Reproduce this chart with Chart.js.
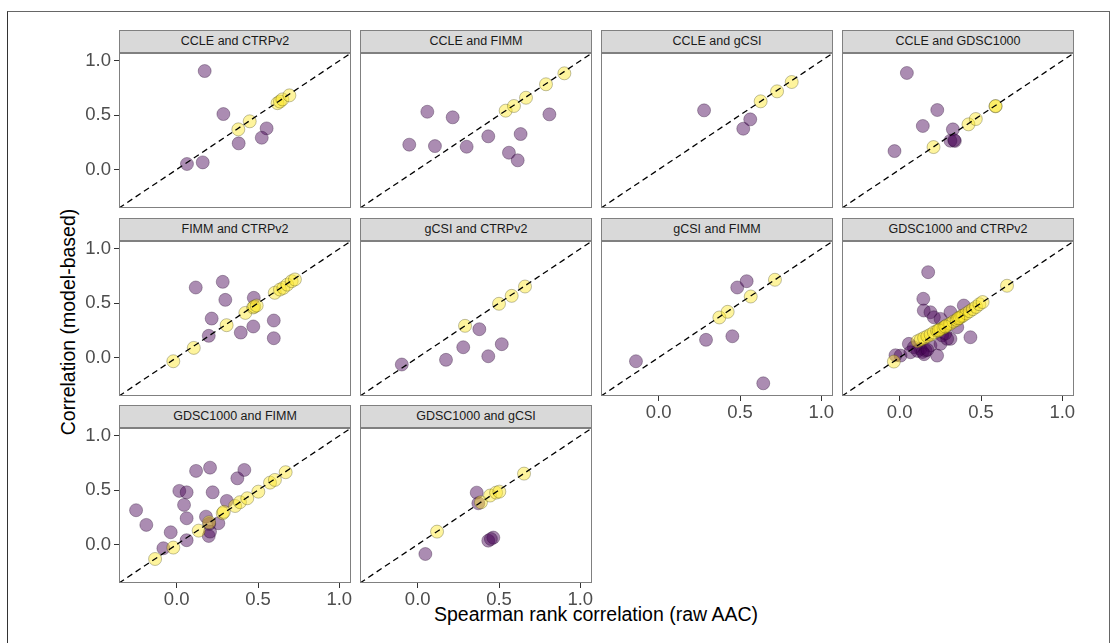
<!DOCTYPE html>
<html>
<head>
<meta charset="utf-8">
<script src="https://cdn.jsdelivr.net/npm/chart.js@4.4.1/dist/chart.umd.min.js"></script>
<style>
  html, body { margin: 0; padding: 0; background: #ffffff; }
  body { width: 1117px; height: 643px; position: relative; overflow: hidden; font-family: "Liberation Sans", Arial, sans-serif; }
  #frame { position: absolute; left: 7px; top: 11px; width: 1103px; height: 660px; border-top: 1px solid #666; border-left: 1px solid #333; border-right: 1px solid #666; box-sizing: border-box; }
  .strip { position: absolute; box-sizing: border-box; background: #d9d9d9; border: 1px solid #808080; color: #1a1a1a; font-size: 12.5px; text-align: center; line-height: 21px; white-space: nowrap; }
  .cv { position: absolute; }
  #ytitle { position: absolute; left: 68px; top: 322px; transform: translate(-50%, -50%) rotate(-90deg); font-size: 19.5px; color: #000; white-space: nowrap; }
  #xtitle { position: absolute; left: 596px; top: 614px; transform: translate(-50%, -50%); font-size: 19.5px; color: #000; white-space: nowrap; }
</style>
</head>
<body>
<div id="frame"></div>
<div id="ytitle">Correlation (model-based)</div>
<div id="xtitle">Spearman rank correlation (raw AAC)</div>
<script>
// ---------------- DATA ----------------
const panelTitles = ["CCLE and CTRPv2", "CCLE and FIMM", "CCLE and gCSI", "CCLE and GDSC1000",
  "FIMM and CTRPv2", "gCSI and CTRPv2", "gCSI and FIMM", "GDSC1000 and CTRPv2",
  "GDSC1000 and FIMM", "GDSC1000 and gCSI"];
const tickValues = [0.0, 0.5, 1.0];
const axisRange = [-0.355, 1.072];
const xAxisTitle = "Spearman rank correlation (raw AAC)";
const yAxisTitle = "Correlation (model-based)";

// [raw AAC spearman, model-based correlation]
const ccleCtrpOff = [[0.172,0.906],[0.287,0.51],[0.381,0.24],[0.553,0.378],[0.523,0.292],[0.063,0.05],[0.16,0.065]];
const ccleCtrpOn  = [[0.449,0.443],[0.379,0.369],[0.62,0.61],[0.635,0.625],[0.65,0.645],[0.693,0.682]];

const ccleFimmOff = [[0.059,0.531],[0.215,0.48],[-0.052,0.228],[0.106,0.215],[0.301,0.209],[0.434,0.305],[0.633,0.326],[0.81,0.507],[0.561,0.154],[0.615,0.084]];
const ccleFimmOn  = [[0.541,0.541],[0.592,0.584],[0.666,0.66],[0.789,0.784],[0.902,0.885]];

const ccleGcsiOff = [[0.279,0.544],[0.563,0.461],[0.52,0.375]];
const ccleGcsiOn  = [[0.627,0.627],[0.728,0.719],[0.818,0.805]];

const ccleGdscOff = [[0.044,0.888],[0.231,0.547],[0.142,0.40],[-0.032,0.169],[0.327,0.369],[0.339,0.262],[0.312,0.264],[0.335,0.27]];
const ccleGdscOn  = [[0.208,0.206],[0.423,0.415],[0.468,0.464],[0.589,0.581],[0.59,0.584]];

const fimmCtrpOff = [[0.117,0.644],[0.283,0.696],[0.299,0.53],[0.474,0.549],[0.215,0.358],[0.197,0.199],[0.394,0.229],[0.471,0.285],[0.597,0.34],[0.597,0.177]];
const fimmCtrpOn  = [[-0.021,-0.035],[0.105,0.088],[0.307,0.297],[0.422,0.41],[0.47,0.46],[0.477,0.468],[0.492,0.478],[0.603,0.595],[0.635,0.625],[0.656,0.64],[0.68,0.67],[0.707,0.702],[0.727,0.718]];

const gcsiCtrpOff = [[-0.098,-0.065],[0.174,-0.022],[0.28,0.094],[0.379,0.26],[0.434,0.011],[0.517,0.122]];
const gcsiCtrpOn  = [[0.291,0.291],[0.5,0.494],[0.578,0.567],[0.66,0.653]];

const gcsiFimmOff = [[-0.14,-0.035],[0.291,0.162],[0.453,0.195],[0.483,0.644],[0.541,0.702],[0.643,-0.238]];
const gcsiFimmOn  = [[0.373,0.368],[0.424,0.42],[0.566,0.561],[0.715,0.715]];

const gdscCtrpOff = [[0.175,0.785],[0.145,0.54],[0.148,0.432],[0.189,0.416],[0.21,0.37],[0.251,0.355],[0.312,0.416],[0.394,0.478],[0.435,0.186],[0.312,0.171],[0.261,0.202],[0.354,0.278],[0.28,0.22],[0.056,0.125],[0.005,0.017],[-0.026,0.02],[0.128,0.079],[0.159,0.064],[0.087,0.094],[0.189,0.11],[0.066,0.048],[0.23,0.017],[0.251,0.125],[0.292,0.171],[0.14,0.05],[0.11,0.06],[0.15,0.03],[0.17,0.07]];
const gdscCtrpOn  = [[-0.036,-0.038],[0.66,0.66],[0.11,0.15],[0.13,0.165],[0.15,0.18],[0.17,0.195],[0.19,0.21],[0.21,0.23],[0.23,0.245],[0.25,0.26],[0.27,0.275],[0.29,0.295],[0.31,0.31],[0.33,0.33],[0.35,0.345],[0.37,0.365],[0.38,0.38],[0.39,0.385],[0.41,0.405],[0.43,0.425],[0.45,0.445],[0.47,0.465],[0.49,0.49],[0.51,0.51],[0.24,0.25],[0.28,0.285],[0.36,0.36]];

const gdscFimmOff = [[-0.25,0.315],[-0.187,0.18],[-0.037,0.112],[-0.082,-0.035],[0.016,0.493],[0.061,0.48],[0.045,0.364],[0.061,0.241],[0.061,0.039],[0.119,0.677],[0.205,0.707],[0.221,0.48],[0.373,0.609],[0.416,0.686],[0.308,0.401],[0.18,0.256],[0.197,0.078],[0.205,0.118],[0.256,0.195],[0.2,0.19]];
const gdscFimmOn  = [[-0.133,-0.134],[-0.021,-0.029],[0.135,0.127],[0.199,0.204],[0.283,0.287],[0.29,0.3],[0.359,0.354],[0.389,0.389],[0.434,0.425],[0.502,0.486],[0.574,0.569],[0.604,0.594],[0.67,0.665]];

const gdscGcsiOff = [[0.047,-0.088],[0.363,0.477],[0.373,0.379],[0.434,0.035],[0.465,0.063],[0.45,0.05]];
const gdscGcsiOn  = [[0.119,0.118],[0.389,0.388],[0.445,0.45],[0.482,0.477],[0.502,0.486],[0.654,0.652]];

const offSeries = [ccleCtrpOff, ccleFimmOff, ccleGcsiOff, ccleGdscOff, fimmCtrpOff, gcsiCtrpOff, gcsiFimmOff, gdscCtrpOff, gdscFimmOff, gdscGcsiOff];
const onSeries  = [ccleCtrpOn, ccleFimmOn, ccleGcsiOn, ccleGdscOn, fimmCtrpOn, gcsiCtrpOn, gcsiFimmOn, gdscCtrpOn, gdscFimmOn, gdscGcsiOn];

// ---------------- LAYOUT ----------------
const colLeft = [119, 360, 601, 842];
const rowTop = [53, 241, 428];
const PW = 232, PH = 155, STRIP = 23;
const AX = 60, AB = 30, PT = 16, PR = 18;
const FONT = '"Liberation Sans", Arial, sans-serif';

const borderPlugin = {
  id: 'panelBorder',
  afterDraw(chart) {
    const a = chart.chartArea, ctx = chart.ctx;
    ctx.save();
    ctx.strokeStyle = '#808080';
    ctx.lineWidth = 1;
    ctx.strokeRect(Math.round(a.left) + 0.5, Math.round(a.top) + 0.5, Math.round(a.right - a.left) - 1, Math.round(a.bottom - a.top) - 1);
    ctx.restore();
  }
};

const toPts = arr => arr.map(p => ({x: p[0], y: p[1]}));

panelTitles.forEach((title, i) => {
  const r = Math.floor(i / 4), c = i % 4;
  const L = colLeft[c], T = rowTop[r];
  const showY = c === 0;
  const showX = r === 2 || (r === 1 && c >= 2);

  const strip = document.createElement('div');
  strip.className = 'strip';
  strip.style.left = L + 'px';
  strip.style.top = (T - STRIP) + 'px';
  strip.style.width = PW + 'px';
  strip.style.height = STRIP + 'px';
  strip.textContent = title;
  document.body.appendChild(strip);

  const cv = document.createElement('canvas');
  cv.className = 'cv';
  const w = AX + PW + PR, h = PT + PH + AB;
  cv.width = w; cv.height = h;
  cv.style.left = (L - AX) + 'px';
  cv.style.top = (T - PT) + 'px';
  cv.style.width = w + 'px'; cv.style.height = h + 'px';
  document.body.appendChild(cv);

  new Chart(cv.getContext('2d'), {
    type: 'scatter',
    data: {
      datasets: [
        { type: 'line', data: toPts([[axisRange[0], axisRange[0]], [axisRange[1], axisRange[1]]]),
          borderColor: '#000', borderWidth: 1.3, borderDash: [6, 4], pointRadius: 0, fill: false, order: 0 },
        { data: toPts(onSeries[i]), backgroundColor: 'rgba(253,231,37,0.45)', borderColor: 'rgba(60,60,20,0.4)',
          borderWidth: 0.8, pointRadius: 6.5, order: 1 },
        { data: toPts(offSeries[i]), backgroundColor: 'rgba(68,1,84,0.45)', borderColor: 'rgba(30,0,40,0.4)',
          borderWidth: 0.8, pointRadius: 6.5, order: 2 }
      ]
    },
    options: {
      responsive: false, maintainAspectRatio: false, animation: false, devicePixelRatio: 1,
      layout: { padding: { top: PT, right: PR, left: 0, bottom: 0 } },
      plugins: { legend: { display: false }, tooltip: { enabled: false }, title: { display: false } },
      events: [],
      scales: {
        x: {
          type: 'linear', position: 'bottom', min: axisRange[0], max: axisRange[1],
          afterBuildTicks: s => { s.ticks = tickValues.map(v => ({value: v})); },
          afterFit: s => { s.height = AB; },
          border: { display: false },
          grid: { display: showX, drawOnChartArea: false, drawTicks: true, tickLength: 5, color: '#333333', lineWidth: 1 },
          ticks: { display: showX, color: '#4d4d4d', font: { size: 18.5, family: FONT }, padding: 1,
                   maxRotation: 0, autoSkip: false, callback: v => Number(v).toFixed(1) }
        },
        y: {
          type: 'linear', position: 'left', min: axisRange[0], max: axisRange[1],
          afterBuildTicks: s => { s.ticks = tickValues.map(v => ({value: v})); },
          afterFit: s => { s.width = AX; },
          border: { display: false },
          grid: { display: showY, drawOnChartArea: false, drawTicks: true, tickLength: 5, color: '#333333', lineWidth: 1 },
          ticks: { display: showY, color: '#4d4d4d', font: { size: 18.5, family: FONT }, padding: 3,
                   autoSkip: false, callback: v => Number(v).toFixed(1) }
        }
      }
    },
    plugins: [borderPlugin]
  });
});
</script>
</body>
</html>
